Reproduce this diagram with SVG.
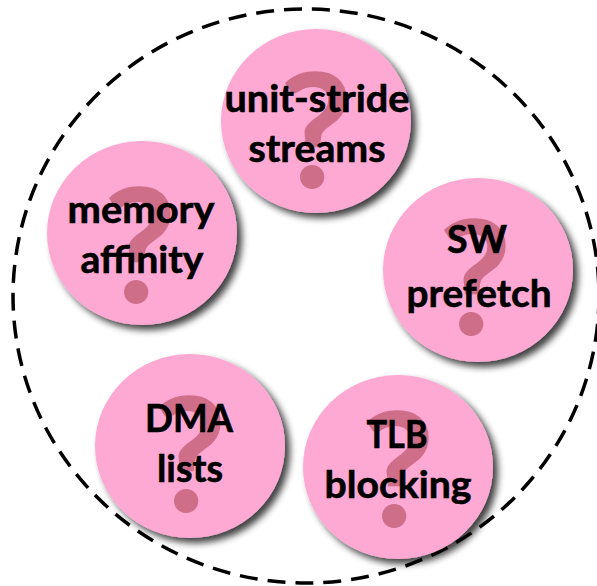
<svg xmlns="http://www.w3.org/2000/svg" width="597" height="586" viewBox="0 0 597 586">
<defs>
<filter id="sh" x="-20%" y="-20%" width="150%" height="150%">
<feGaussianBlur in="SourceAlpha" stdDeviation="3.5"/>
<feOffset dx="5" dy="5" result="b"/>
<feComponentTransfer><feFuncA type="linear" slope="0.75"/></feComponentTransfer>
<feMerge><feMergeNode/><feMergeNode in="SourceGraphic"/></feMerge>
</filter>
</defs>
<style>
.c{fill:#fda9d3;filter:url(#sh)}
.q{font-family:Lato,"Liberation Sans",sans-serif;font-weight:bold;font-size:160px;fill:#cf6e89;text-anchor:middle}
.t{font-family:Lato,"Liberation Sans",sans-serif;font-weight:bold;font-size:38px;fill:#000;stroke:#000;stroke-width:0.6;text-anchor:middle}
.b{fill:none;stroke:#000;stroke-width:3.5;stroke-dasharray:18 10}
</style>
<ellipse class="b" cx="306" cy="296" rx="293" ry="287"/>
<g id="unit-stride">
<ellipse class="c" cx="316" cy="121" rx="95" ry="92"/>
<text class="q" x="316" y="188">?</text>
<text class="t" x="317" y="112" textLength="185" lengthAdjust="spacingAndGlyphs">unit-stride</text>
<text class="t" x="317" y="162" textLength="137" lengthAdjust="spacingAndGlyphs">streams</text>
</g>
<g id="memory-affinity">
<ellipse class="c" cx="142" cy="233" rx="95" ry="92"/>
<text class="q" x="140" y="303">?</text>
<text class="t" x="141" y="223" textLength="147" lengthAdjust="spacingAndGlyphs">memory</text>
<text class="t" x="142" y="273" textLength="123" lengthAdjust="spacingAndGlyphs">affinity</text>
</g>
<g id="sw-prefetch">
<ellipse class="c" cx="478" cy="270" rx="95" ry="92"/>
<text class="q" x="475" y="335">?</text>
<text class="t" x="477" y="253" textLength="60" lengthAdjust="spacingAndGlyphs">SW</text>
<text class="t" x="479" y="307" textLength="145" lengthAdjust="spacingAndGlyphs">prefetch</text>
</g>
<g id="dma-lists">
<ellipse class="c" cx="190" cy="446" rx="95" ry="92"/>
<text class="q" x="190" y="512">?</text>
<text class="t" x="189" y="432" textLength="88" lengthAdjust="spacingAndGlyphs">DMA</text>
<text class="t" x="190" y="482" textLength="66" lengthAdjust="spacingAndGlyphs">lists</text>
</g>
<g id="tlb-blocking">
<ellipse class="c" cx="398" cy="467" rx="95" ry="92"/>
<text class="q" x="398" y="527">?</text>
<text class="t" x="397" y="448" textLength="61" lengthAdjust="spacingAndGlyphs">TLB</text>
<text class="t" x="398" y="498" textLength="147" lengthAdjust="spacingAndGlyphs">blocking</text>
</g>
<g id="connectors"/>
</svg>
